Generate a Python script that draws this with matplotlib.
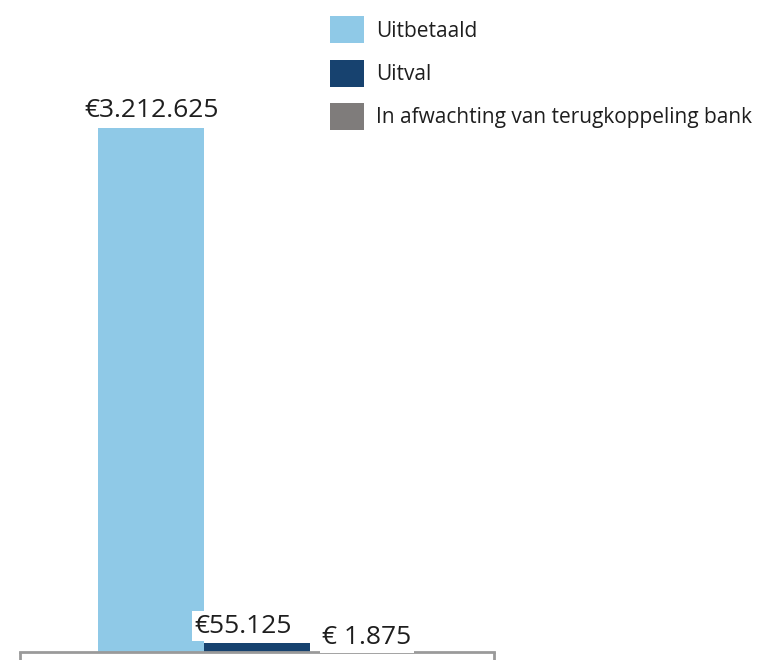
import matplotlib
matplotlib.use("Agg")
import matplotlib.pyplot as plt
from matplotlib.patches import Patch

plt.rcParams['font.family'] = ['Open Sans', 'DejaVu Sans']

categories = ["Uitbetaald", "Uitval", "In afwachting van terugkoppeling bank"]
values = [3212625, 55125, 1875]
labels = ["€3.212.625", "€55.125", "€ 1.875"]
colors = ["#8fc9e7", "#17426f", "#7f7c7b"]

fig = plt.figure(figsize=(7.64, 6.6), dpi=100)
ax = fig.add_axes([20/764, 8/660, 474/764, 652/660])

x = [0, 1, 2]
bars = ax.bar(x, values, width=1.0, color=colors, zorder=2)

xmin, xmax = -1.24, 3.24
ax.set_xlim(xmin, xmax)
ax.set_ylim(0, 4.0e6)

for s in ["top", "right", "left"]:
    ax.spines[s].set_visible(False)
ax.spines["bottom"].set_color("#9a9a9a")
ax.spines["bottom"].set_linewidth(2)
ax.set_yticks([])
ax.set_xticks([xmin, xmax])
ax.set_xticklabels(["", ""])
ax.tick_params(axis="x", direction="out", length=9, width=2, color="#9a9a9a")

offsets = [(0, 4), (-10, 3), (3, 1)]
for b, lab, (dx, dy) in zip(bars, labels, offsets):
    ax.annotate(lab, (b.get_x() + b.get_width()/2, b.get_height()),
                xytext=(dx, dy), textcoords="offset points",
                ha="center", va="bottom", fontsize=19, color="#1e1e1e",
                bbox=dict(boxstyle="square,pad=0.1", fc="white", ec="none"),
                zorder=3)

handles = [Patch(facecolor=c, edgecolor="none") for c in colors]
fig.legend(handles, categories, loc="upper left",
           bbox_to_anchor=(322/764, 1 - 8/660), frameon=False,
           fontsize=15, handlelength=1.63, handleheight=1.6,
           labelspacing=0.8, handletextpad=0.55, borderaxespad=0,
           labelcolor="#1e1e1e")

fig.savefig("out.png", dpi=100)
